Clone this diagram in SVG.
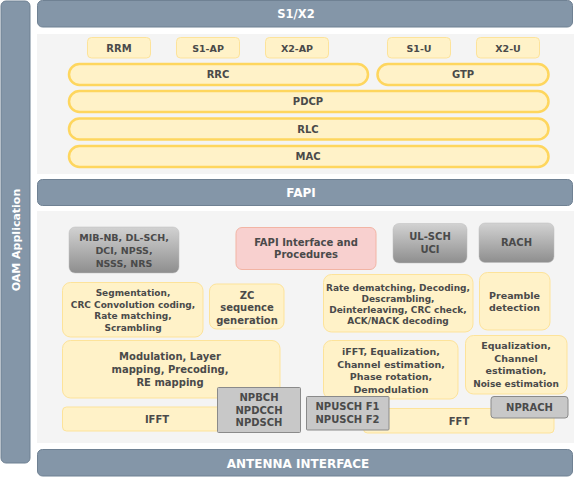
<svg xmlns="http://www.w3.org/2000/svg" width="575" height="477" viewBox="0 0 575 477">
<defs>
<linearGradient id="gg" x1="0" y1="0" x2="0" y2="1">
<stop offset="0" stop-color="#d2d2d2"/>
<stop offset="1" stop-color="#8e8e8e"/>
</linearGradient>
<style>
text{font-family:"DejaVu Sans","Open Sans",sans-serif;font-weight:700;text-anchor:middle;fill:#4a4a4a;}
.bar{fill:#8496a8;stroke:#6f8193;stroke-width:1;}
.bt{fill:#ffffff;font-size:12px;}
.panel{fill:#f4f4f4;}
.top{fill:#fff2c8;stroke:#fde39a;stroke-width:1;}
.layer{fill:#fff2c8;stroke:#fed65e;stroke-width:2.5;}
.y{fill:#fff2c8;stroke:#fde39a;stroke-width:1;}
.g{fill:url(#gg);stroke:#bdbdbd;stroke-width:0.5;}
.n{fill:#c8c8c8;stroke:#8a8a8a;stroke-width:1;}
.t10{font-size:10px;}
.t9{font-size:9px;}
.t95{font-size:9.5px;}
</style>
</defs>
<g id="oam"><rect class="bar" x="1" y="1" width="29" height="462" rx="5"/><text class="bt" transform="translate(19.5,240) rotate(-90)" style="font-size:11px">OAM Application</text></g>
<g id="s1x2"><rect class="bar" x="37.5" y="0.5" width="535" height="26.5" rx="5"/><text class="bt" x="296" y="18" style="font-size:11.5px">S1/X2</text></g>
<rect class="panel" x="37" y="34" width="537" height="140"/>
<g id="rrm"><rect class="top" x="87.5" y="37.5" width="63" height="20.5" rx="4"/><text class="t10" x="119" y="51.5">RRM</text></g>
<g id="s1ap"><rect class="top" x="176.5" y="37.5" width="63" height="20.5" rx="4"/><text class="t95" x="208" y="51.5">S1-AP</text></g>
<g id="x2ap"><rect class="top" x="265.5" y="37.5" width="63" height="20.5" rx="4"/><text class="t95" x="297" y="51.5">X2-AP</text></g>
<g id="s1u"><rect class="top" x="387.5" y="37.5" width="63" height="20.5" rx="4"/><text class="t95" x="419" y="51.5">S1-U</text></g>
<g id="x2u"><rect class="top" x="476.5" y="37.5" width="63" height="20.5" rx="4"/><text class="t95" x="508" y="51.5">X2-U</text></g>
<g id="rrc"><rect class="layer" x="69" y="64" width="299" height="21" rx="10.5"/><text class="t10" x="218" y="78">RRC</text></g>
<g id="gtp"><rect class="layer" x="377.5" y="64" width="171" height="21" rx="10.5"/><text class="t10" x="463" y="78">GTP</text></g>
<g id="pdcp"><rect class="layer" x="69" y="91" width="479.5" height="21" rx="10.5"/><text class="t10" x="308" y="105">PDCP</text></g>
<g id="rlc"><rect class="layer" x="69" y="118.5" width="479.5" height="21" rx="10.5"/><text class="t10" x="308" y="132.5">RLC</text></g>
<g id="mac"><rect class="layer" x="69" y="146" width="479.5" height="21" rx="10.5"/><text class="t10" x="308" y="160">MAC</text></g>
<g id="fapi"><rect class="bar" x="37.5" y="179.5" width="535" height="26" rx="5"/><text class="bt" x="301" y="197">FAPI</text></g>
<rect class="panel" x="37" y="211" width="537" height="232"/>
<g id="mib"><rect class="g" x="69" y="227" width="110" height="46" rx="6"/><text class="t95" x="124" y="241">MIB-NB, DL-SCH,</text><text class="t95" x="124" y="254">DCI, NPSS,</text><text class="t95" x="124" y="267">NSSS, NRS</text></g>
<g id="fapiif"><rect x="236" y="227.5" width="140" height="42" rx="6" fill="#f8d0cf" stroke="#f2b4a4" stroke-width="1"/><text class="t10" x="306" y="245.5">FAPI Interface and</text><text class="t10" x="306" y="258">Procedures</text></g>
<g id="ulsch"><rect class="g" x="393" y="223.5" width="74" height="39.5" rx="6"/><text class="t10" x="430" y="240">UL-SCH</text><text class="t10" x="430" y="253">UCI</text></g>
<g id="rach"><rect class="g" x="479" y="223" width="75" height="39.5" rx="6"/><text class="t10" x="516.5" y="246">RACH</text></g>
<g id="seg"><rect class="y" x="62.5" y="282.5" width="140.5" height="54.5" rx="8"/><text class="t9" x="133" y="296">Segmentation,</text><text class="t9" x="133" y="307.5">CRC Convolution coding,</text><text class="t9" x="133" y="319">Rate matching,</text><text class="t9" x="133" y="330.5">Scrambling</text></g>
<g id="zc"><rect class="y" x="209.5" y="284" width="74.5" height="45" rx="7"/><text class="t10" x="247" y="298.5">ZC</text><text class="t10" x="247" y="311">sequence</text><text class="t10" x="247" y="323.5">generation</text></g>
<g id="ratedm"><rect class="y" x="323.5" y="274.5" width="149.5" height="57.5" rx="8"/><text class="t9" x="398" y="291">Rate dematching, Decoding,</text><text class="t9" x="398" y="302">Descrambling,</text><text class="t9" x="398" y="313">Deinterleaving, CRC check,</text><text class="t9" x="398" y="324">ACK/NACK decoding</text></g>
<g id="preamble"><rect class="y" x="479.5" y="272.5" width="70.5" height="57.5" rx="8"/><text class="t95" x="514.5" y="299">Preamble</text><text class="t95" x="514.5" y="311">detection</text></g>
<g id="mod"><rect class="y" x="62.5" y="340.5" width="217.5" height="57.5" rx="8"/><text class="t10" x="170" y="360">Modulation, Layer</text><text class="t10" x="170" y="373">mapping, Precoding,</text><text class="t10" x="170" y="386">RE mapping</text></g>
<g id="ifft"><rect class="y" x="62.5" y="407" width="190" height="24" rx="4"/><text class="t10" x="157" y="422.5">IFFT</text></g>
<g id="npbch"><rect class="n" x="217.5" y="387.5" width="83" height="45" rx="1"/><text class="t10" x="259" y="401">NPBCH</text><text class="t10" x="259" y="413.5">NPDCCH</text><text class="t10" x="259" y="426">NPDSCH</text></g>
<g id="ifft2"><rect class="y" x="323.5" y="340.5" width="134.5" height="58.5" rx="8"/><text class="t95" x="391" y="355">iFFT, Equalization,</text><text class="t95" x="391" y="367.5">Channel estimation,</text><text class="t95" x="391" y="380">Phase rotation,</text><text class="t95" x="391" y="392.5">Demodulation</text></g>
<g id="eq"><rect class="y" x="465.5" y="335.5" width="101.5" height="58.5" rx="8"/><text class="t95" x="516" y="349">Equalization,</text><text class="t95" x="516" y="361.5">Channel</text><text class="t95" x="516" y="374">estimation,</text><text class="t9" x="516" y="386.5">Noise estimation</text></g>
<g id="fft"><rect class="y" x="363.5" y="408.5" width="190.5" height="24.5" rx="4"/><text class="t10" x="459" y="425">FFT</text></g>
<g id="npusch"><rect class="n" x="306.5" y="396.5" width="82.5" height="33.5" rx="1"/><text class="t10" x="347.5" y="410">NPUSCH F1</text><text class="t10" x="347.5" y="423">NPUSCH F2</text></g>
<g id="nprach"><rect class="n" x="491" y="396.5" width="77" height="21.5" rx="3"/><text class="t10" x="529.5" y="411">NPRACH</text></g>
<g id="antenna"><rect class="bar" x="37.5" y="449.5" width="535" height="26.5" rx="5"/><text class="bt" x="298" y="467.5">ANTENNA INTERFACE</text></g>
<g id="connectors"/>
</svg>
